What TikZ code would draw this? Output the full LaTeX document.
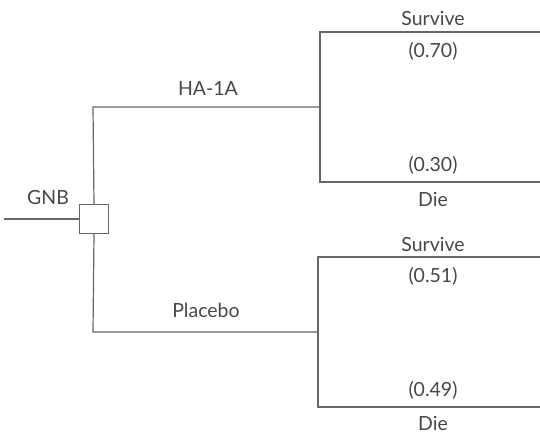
\documentclass[tikz,border=0pt]{standalone}
\usepackage{fontspec}
\setmainfont{Lato}
\begin{document}
\begin{tikzpicture}[x=1pt,y=-1pt,
  ln/.style={draw=black!60, line width=1.2pt},
  lbl/.style={text=black!72, font=\fontsize{19.5}{22}\selectfont, inner sep=0pt},
  decbox/.style={ln, fill=white, minimum size=29pt, inner sep=0pt}]
\useasboundingbox (0,0) rectangle (540,434);
% decision node
\node[decbox] (dec) at (94,219) {};
\coordinate (start) at (4,219);
\coordinate (top) at (93,107);
\coordinate (bot) at (93,332);
\coordinate (c1) at (320,107);
\coordinate (c2) at (318,332);
\coordinate (c1t) at (320,32);
\coordinate (c1b) at (320,182);
\coordinate (c2t) at (318,257);
\coordinate (c2b) at (318,407);
\coordinate (e1t) at (540,32);
\coordinate (e1b) at (540,182);
\coordinate (e2t) at (540,257);
\coordinate (e2b) at (540,407);
% connectors
\draw[ln] (start) -- (dec.west);
\draw[ln] (dec.north) -- (top) -- (c1);
\draw[ln] (dec.south) -- (bot) -- (c2);
\draw[ln] (e1t) -- (c1t) -- (c1b) -- (e1b);
\draw[ln] (e2t) -- (c2t) -- (c2b) -- (e2b);
% labels
\node[lbl] (gnb) at (48,198) {GNB};
\node[lbl] (ha) at (208,88) {HA-1A};
\node[lbl] (pl) at (206,310) {Placebo};
\node[lbl] (s1) at (433,18) {Survive};
\node[lbl] (p1) at (433,51) {(0.70)};
\node[lbl] (p2) at (433,165) {(0.30)};
\node[lbl] (d1) at (433,199) {Die};
\node[lbl] (s2) at (433,244) {Survive};
\node[lbl] (p3) at (433,276) {(0.51)};
\node[lbl] (p4) at (433,390) {(0.49)};
\node[lbl] (d2) at (433,423) {Die};
\end{tikzpicture}
\end{document}
